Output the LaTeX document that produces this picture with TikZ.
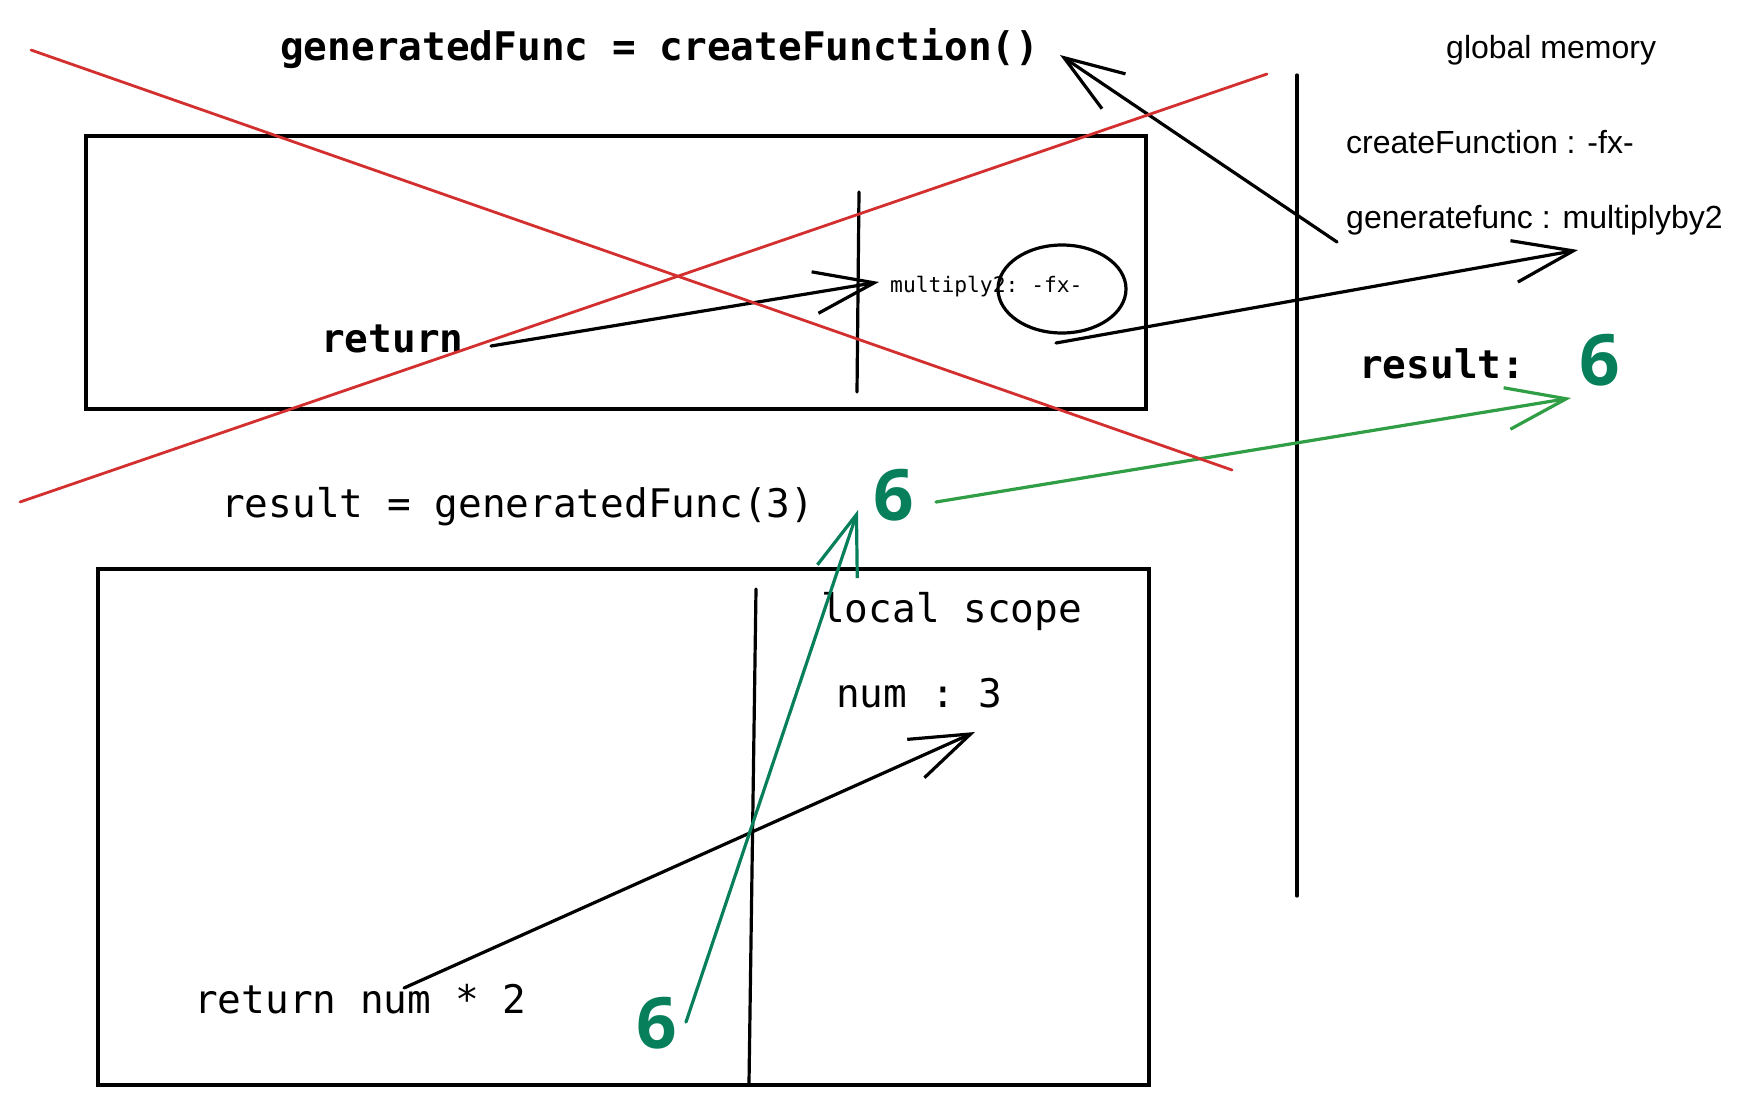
\documentclass[tikz,border=0pt]{standalone}
\usepackage{fontspec}
\setmainfont{Liberation Sans}
\setmonofont{DejaVu Sans Mono}
\newfontfamily\sixfont{Open Sans}
\usetikzlibrary{arrows.meta,shapes.geometric}
\definecolor{redx}{HTML}{D32F2F}
\definecolor{teal6}{HTML}{087F5B}
\definecolor{greenar}{HTML}{2F9E44}
\tikzset{
  code/.style={font=\ttfamily\fontsize{39.4}{46}\selectfont, inner sep=0pt, anchor=base west},
  codeb/.style={font=\ttfamily\bfseries\fontsize{39.4}{46}\selectfont, inner sep=0pt, anchor=base west},
  codesmall/.style={font=\ttfamily\fontsize{21.3}{25}\selectfont, inner sep=0pt, anchor=base west},
  memlabel/.style={font=\fontsize{32}{38}\selectfont, inner sep=0pt, anchor=base west},
  six/.style={font=\sixfont\bfseries\fontsize{71}{80}\selectfont, text=teal6, inner sep=0pt, anchor=base west},
  sk/.style={line width=3.2pt, line cap=round, line join=round},
  arr/.style={sk, -{Straight Barb[length=60pt, width=42pt]}},
  crossout/.style={line width=2.8pt, draw=redx, line cap=round},
  frame/.style={draw, line width=3.4pt, inner sep=0pt, outer sep=0pt}
}
\begin{document}
\begin{tikzpicture}[x=1pt,y=-1pt]
\fill[white] (0,0) rectangle (1743,1106);
\useasboundingbox (0,0) rectangle (1743,1106);

% frames
\node[frame, minimum width=1060pt, minimum height=273pt] (topframe) at (616,272.5) {};
\node[frame, minimum width=1051pt, minimum height=516pt] (botframe) at (623.5,827) {};

% separators
\coordinate (ti1) at (859,192); \coordinate (ti2) at (857,392);
\draw[sk] (ti1) -- (ti2);
\coordinate (gl1) at (1297,75); \coordinate (gl2) at (1297,896);
\draw[sk] (gl1) -- (gl2);
\coordinate (bi1) at (756,589); \coordinate (bi2) at (749,1083);
\draw[sk] (bi1) -- (bi2);

% ellipse
\node[ellipse, draw, line width=3.2pt, minimum width=128pt, minimum height=88pt] (fxcirc) at (1062,289) {};

% texts
\node[codeb] (gen) at (280,60) {generatedFunc = createFunction()};
\node[memlabel] (glob) at (1446,58) {global memory};
\node[memlabel] (cf) at (1346,153) {createFunction : -fx-};
\node[memlabel] (gf) at (1346,228) {generatefunc : multiplyby2};
\node[codeb] (reslbl) at (1359,378) {result:};
\node[six] (sixr) at (1579,385) {6};
\node[codeb] (ret) at (321,352) {return};
\node[codesmall] (mul) at (890,292) {multiply2: -fx-};
\node[code] (rescall) at (221,517) {result = generatedFunc(3)};
\node[six] (sixm) at (873,520) {6};
\node[code] (loc) at (821,622) {local scope};
\node[code] (numl) at (836,707) {num : 3};
\node[code] (retnum) at (194,1013) {return num * 2};
\node[six] (sixb) at (636,1048) {6};

% arrow endpoints
\coordinate (a1s) at (491,346); \coordinate (a1e) at (879,282);
\coordinate (a2s) at (1056,343); \coordinate (a2e) at (1578,250);
\coordinate (a3s) at (1337,242); \coordinate (a3e) at (1060,55);
\coordinate (a4s) at (936,502); \coordinate (a4e) at (1571,398);
\coordinate (a5s) at (404,988); \coordinate (a5e) at (975,732);
\coordinate (a6s) at (686,1022); \coordinate (a6e) at (858,510);

\draw[arr] (a1s) -- (a1e);
\draw[arr] (a2s) -- (a2e);
\draw[arr] (a3s) -- (a3e);
\draw[arr, draw=greenar] (a4s) -- (a4e);
\draw[arr] (a5s) -- (a5e);
\draw[arr, draw=teal6] (a6s) -- (a6e);

% red cross
\coordinate (r1a) at (31,50); \coordinate (r1b) at (1232,470);
\coordinate (r2a) at (20,502); \coordinate (r2b) at (1267,74);
\draw[crossout] (r1a) -- (r1b);
\draw[crossout] (r2a) -- (r2b);
\end{tikzpicture}
\end{document}
